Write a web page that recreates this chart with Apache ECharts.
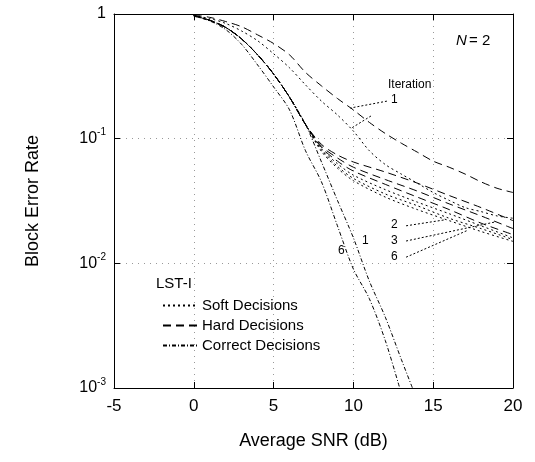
<!DOCTYPE html>
<html>
  <head>
    <meta charset="utf-8" />
    <title>Block Error Rate</title>
    <script src="https://cdn.jsdelivr.net/npm/echarts@6/dist/echarts.min.js"></script>
  </head>
  <body style="margin:0">
    <div id="chart" style="width: 535px; height: 462px"></div>
    <script type="text/javascript">
      // curve data, [SNR dB, block error rate]
      var hard1 = [[0,0.98],[1,0.94],[2,0.87],[3,0.79],[4,0.68],[5,0.58],[6,0.47],[7,0.34],[8,0.265],[9,0.21],[10,0.17],[11,0.135],[12,0.11],[13,0.092],[14,0.078],[15,0.066],[16,0.059],[17,0.052],[18,0.045],[19,0.04],[20,0.037]];
      var soft1 = [[0,0.97],[1,0.92],[2,0.84],[3,0.73],[4,0.61],[5,0.48],[6,0.37],[7,0.27],[8,0.2],[9,0.155],[10,0.115],[11,0.08],[12,0.062],[13,0.052],[14,0.044],[15,0.037],[16,0.032],[17,0.028],[18,0.026],[19,0.024],[20,0.023]];
      var hard2 = [[0,0.97],[1,0.89],[2,0.78],[3,0.63],[4,0.47],[5,0.33],[6,0.215],[7,0.13],[8,0.09],[9,0.074],[10,0.065],[12,0.054],[14,0.044],[16,0.035],[18,0.028],[20,0.022]];
      var hard3 = [[0,0.97],[1,0.89],[2,0.78],[3,0.63],[4,0.47],[5,0.33],[6,0.215],[7,0.13],[8,0.087],[9,0.07],[10,0.059],[12,0.047],[14,0.038],[16,0.03],[18,0.024],[20,0.019]];
      var hard6 = [[0,0.97],[1,0.89],[2,0.78],[3,0.63],[4,0.47],[5,0.33],[6,0.215],[7,0.13],[8,0.085],[9,0.066],[10,0.055],[12,0.043],[14,0.034],[16,0.027],[18,0.021],[20,0.017]];
      var soft2 = [[0,0.97],[1,0.89],[2,0.78],[3,0.63],[4,0.47],[5,0.33],[6,0.215],[7,0.13],[8,0.083],[9,0.063],[10,0.051],[12,0.039],[14,0.031],[16,0.025],[18,0.02],[20,0.016]];
      var soft3 = [[0,0.97],[1,0.89],[2,0.78],[3,0.63],[4,0.47],[5,0.33],[6,0.215],[7,0.13],[8,0.081],[9,0.06],[10,0.048],[12,0.036],[14,0.029],[16,0.023],[18,0.019],[20,0.0155]];
      var soft6 = [[0,0.97],[1,0.89],[2,0.78],[3,0.63],[4,0.47],[5,0.33],[6,0.215],[7,0.13],[8,0.079],[9,0.058],[10,0.046],[12,0.034],[14,0.027],[16,0.022],[18,0.018],[20,0.015]];
      var correct1 = [[0,0.97],[1,0.89],[2,0.78],[3,0.63],[4,0.47],[5,0.33],[6,0.215],[7,0.13],[8,0.065],[9,0.032],[10,0.016],[11,0.0072],[12,0.0037],[13,0.0017],[13.7,0.001]];
      var correct6 = [[0,0.96],[1,0.88],[2,0.75],[3,0.57],[4,0.39],[5,0.26],[6,0.17],[7,0.08],[8,0.045],[9,0.02],[10,0.009],[11,0.0052],[12,0.0024],[12.9,0.001]];

      // annotation pointers, same units
      var iterArrowA = [[12.1,0.2],[9.8,0.176]];
      var iterArrowB = [[11.1,0.152],[9.9,0.122]];
      var arrow2 = [[13.3,0.02],[15.7,0.0223]];
      var arrow3 = [[13.3,0.0151],[18.9,0.0215]];
      var arrow6 = [[13.3,0.0112],[17.2,0.0185]];

      var xTicks = [-5, 0, 5, 10, 15, 20];
      var yTicks = [0.001, 0.01, 0.1, 1];

      var font = "Liberation Sans";
      var softDash = [2, 3];
      var hardDash = [8, 5];
      var correctDash = [4, 2, 1, 2];

      function curve(name, data, dash) {
        return {
          name: name, type: "line", data: data, smooth: 0.3,
          symbol: "none", silent: true, xAxisIndex: 0, yAxisIndex: 0,
          lineStyle: { color: "#000", width: 1, type: dash },
          itemStyle: { color: "#000" },
        };
      }
      function pointer(data) {
        return {
          type: "line", data: data, symbol: "none", silent: true,
          lineStyle: { color: "#000", width: 1, type: [2, 2] },
        };
      }

      var chart = echarts.init(document.getElementById("chart"));
      var option = {
        backgroundColor: "#fff",
        animation: false,
        textStyle: { fontFamily: font, color: "#000" },
        grid: { left: 114, right: 22, top: 14, bottom: 74 },
        legend: {
          orient: "vertical", left: 157, top: 293,
          itemWidth: 34, itemHeight: 12, itemGap: 5,
          itemStyle: { opacity: 0 },
          textStyle: { fontFamily: font, fontSize: 15, color: "#000" },
          data: ["Soft Decisions", "Hard Decisions", "Correct Decisions"],
        },
        xAxis: [
          {
            type: "value", min: xTicks[0], max: xTicks[xTicks.length - 1], interval: 5,
            name: "Average SNR (dB)", nameLocation: "middle", nameGap: 44,
            nameTextStyle: { fontFamily: font, fontSize: 18, color: "#000" },
            axisLine: { onZero: false, lineStyle: { color: "#000" } },
            axisTick: { inside: true, length: 6, lineStyle: { color: "#000" } },
            axisLabel: { fontFamily: font, fontSize: 17, color: "#000", margin: 10 },
            splitLine: { show: true, lineStyle: { color: "#999", type: [1, 5] } },
          },
          {
            type: "value", position: "top", min: xTicks[0], max: xTicks[xTicks.length - 1], interval: 5,
            axisLine: { onZero: false, lineStyle: { color: "#000" } },
            axisTick: { inside: true, length: 6, lineStyle: { color: "#000" } },
            axisLabel: { show: false }, splitLine: { show: false },
          },
        ],
        yAxis: [
          {
            type: "log", logBase: 10, min: yTicks[0], max: yTicks[yTicks.length - 1],
            name: "Block Error Rate", nameLocation: "middle", nameGap: 72,
            nameTextStyle: { fontFamily: font, fontSize: 18, color: "#000" },
            axisLine: { show: true, onZero: false, lineStyle: { color: "#000" } },
            axisTick: { inside: true, length: 6, lineStyle: { color: "#000" } },
            axisLabel: {
              margin: 8, color: "#000",
              formatter: function (v) {
                if (Math.abs(v - 1) < 1e-9) return "{b|1}";
                return "{b|10}{s|" + Math.round(Math.log10(v)) + "}";
              },
              rich: {
                b: { fontFamily: font, fontSize: 16, color: "#000" },
                s: { fontFamily: font, fontSize: 10, color: "#000", padding: [0, 0, 12, 0] },
              },
            },
            splitLine: { show: true, lineStyle: { color: "#999", type: [1, 5] } },
          },
          {
            type: "log", logBase: 10, position: "right", min: yTicks[0], max: yTicks[yTicks.length - 1],
            axisLine: { show: true, onZero: false, lineStyle: { color: "#000" } },
            axisTick: { inside: true, length: 6, lineStyle: { color: "#000" } },
            axisLabel: { show: false }, splitLine: { show: false },
          },
        ],
        series: [
          curve("Soft Decisions", soft1, softDash),
          curve("Soft Decisions", soft2, softDash),
          curve("Soft Decisions", soft3, softDash),
          curve("Soft Decisions", soft6, softDash),
          curve("Hard Decisions", hard1, hardDash),
          curve("Hard Decisions", hard2, hardDash),
          curve("Hard Decisions", hard3, hardDash),
          curve("Hard Decisions", hard6, hardDash),
          curve("Correct Decisions", correct1, correctDash),
          curve("Correct Decisions", correct6, correctDash),
          pointer(iterArrowA),
          pointer(iterArrowB),
          pointer(arrow2),
          pointer(arrow3),
          pointer(arrow6),
        ],
        graphic: [
          { type: "text", left: 456, top: 33, style: { text: "N", font: "italic 15px Liberation Sans", fill: "#000" } },
          { type: "text", left: 469, top: 33, style: { text: "= 2", font: "15px Liberation Sans", fill: "#000" } },
          { type: "text", left: 388, top: 79, style: { text: "Iteration", font: "12px Liberation Sans", fill: "#000" } },
          { type: "text", left: 391, top: 94, style: { text: "1", font: "12px Liberation Sans", fill: "#000" } },
          { type: "text", left: 391, top: 219, style: { text: "2", font: "12px Liberation Sans", fill: "#000" } },
          { type: "text", left: 391, top: 235, style: { text: "3", font: "12px Liberation Sans", fill: "#000" } },
          { type: "text", left: 391, top: 251, style: { text: "6", font: "12px Liberation Sans", fill: "#000" } },
          { type: "text", left: 362, top: 235, style: { text: "1", font: "12px Liberation Sans", fill: "#000" } },
          { type: "text", left: 338, top: 245, style: { text: "6", font: "12px Liberation Sans", fill: "#000" } },
          { type: "text", left: 156, top: 276, style: { text: "LST-I", font: "15px Liberation Sans", fill: "#000" } },
        ],
      };
      chart.setOption(option);
    </script>
  </body>
</html>
